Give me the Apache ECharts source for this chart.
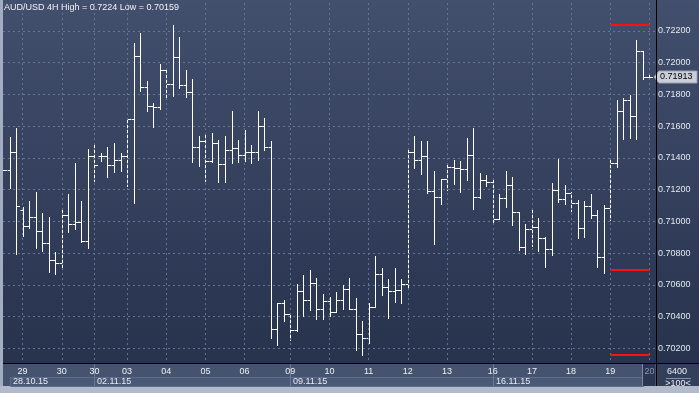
<!DOCTYPE html>
<html><head><meta charset="utf-8">
<script src="https://cdn.jsdelivr.net/npm/echarts@6/dist/echarts.min.js"></script>
<style>html,body{margin:0;padding:0;background:#2e3a55}#c{width:699px;height:393px}</style>
</head><body><div id="c"></div>
<script>
var opens = [0.71322,0.71322,0.71437,0.71070,0.70973,0.71026,0.70937,0.70862,0.70755,0.70736,
0.71038,0.70982,0.70998,0.70879,0.71410,0.71410,0.71410,0.71358,0.71385,0.71410,
0.71647,0.72042,0.71845,0.71725,0.71719,0.71952,0.71864,0.72034,0.71858,0.71813,
0.71467,0.71505,0.71381,0.71492,0.71360,0.71448,0.71461,0.71416,0.71435,0.71435,
0.71599,0.71467,0.70320,0.70484,0.70414,0.70313,0.70559,0.70503,0.70610,0.70446,
0.70496,0.70427,0.70503,0.70572,0.70446,0.70288,0.70263,0.70458,0.70666,0.70584,
0.70559,0.70566,0.70605,0.71435,0.71385,0.71410,0.71189,0.71152,0.71267,0.71341,
0.71334,0.71328,0.71416,0.71156,0.71259,0.71246,0.71013,0.71145,0.71227,0.71061,
0.70837,0.70950,0.70965,0.70895,0.70824,0.71198,0.71141,0.71177,0.71114,0.70961,
0.71095,0.71038,0.70774,0.71082,0.71370,0.71694,0.71763,0.71662,0.72072,0.71910];
var highs = [0.71322,0.71534,0.71587,0.71089,0.71129,0.71185,0.71053,0.71028,0.70805,0.71087,
0.71173,0.71368,0.71129,0.71454,0.71482,0.71431,0.71469,0.71494,0.71431,0.71650,
0.72122,0.72187,0.71885,0.71744,0.71990,0.71969,0.72240,0.72162,0.71954,0.71895,
0.71538,0.71551,0.71557,0.71513,0.71538,0.71694,0.71513,0.71574,0.71482,0.71694,
0.71650,0.71505,0.70484,0.70503,0.70414,0.70603,0.70660,0.70692,0.70641,0.70540,
0.70521,0.70553,0.70597,0.70641,0.70515,0.70370,0.70484,0.70780,0.70704,0.70635,
0.70704,0.70635,0.71448,0.71536,0.71505,0.71505,0.71316,0.71269,0.71364,0.71385,
0.71379,0.71524,0.71587,0.71303,0.71290,0.71259,0.71171,0.71318,0.71278,0.71061,
0.70984,0.71078,0.71021,0.70902,0.71240,0.71393,0.71227,0.71183,0.71133,0.71129,
0.71171,0.71070,0.71101,0.71385,0.71763,0.71776,0.71797,0.72143,0.72074,0.71933];
var lows = [0.71322,0.71213,0.70797,0.70910,0.70960,0.70834,0.70816,0.70683,0.70671,0.70708,
0.70933,0.70954,0.70872,0.70834,0.71257,0.71383,0.71280,0.71313,0.71320,0.71225,
0.71118,0.71824,0.71698,0.71597,0.71711,0.71771,0.71790,0.71843,0.71786,0.71376,
0.71351,0.71257,0.71376,0.71250,0.71250,0.71370,0.71376,0.71383,0.71370,0.71389,
0.71452,0.70267,0.70223,0.70374,0.70255,0.70311,0.70406,0.70444,0.70387,0.70387,
0.70406,0.70427,0.70446,0.70446,0.70187,0.70159,0.70236,0.70458,0.70534,0.70393,
0.70490,0.70484,0.70572,0.71339,0.71301,0.71181,0.70860,0.71112,0.71200,0.71238,
0.71187,0.71263,0.71075,0.71150,0.71225,0.70986,0.71013,0.71093,0.70979,0.70822,
0.70797,0.70847,0.70816,0.70715,0.70790,0.71124,0.71112,0.71068,0.70897,0.70904,
0.71019,0.70715,0.70677,0.71011,0.71345,0.71521,0.71524,0.71521,0.71895,0.71902];
var closes = [0.71322,0.71437,0.71095,0.70973,0.71026,0.70937,0.70862,0.70755,0.70736,0.71038,
0.70982,0.70998,0.70879,0.71410,0.71353,0.71410,0.71358,0.71385,0.71410,0.71647,
0.72042,0.71845,0.71725,0.71719,0.71952,0.71864,0.72034,0.71858,0.71813,0.71467,
0.71505,0.71381,0.71492,0.71360,0.71448,0.71461,0.71416,0.71435,0.71435,0.71599,
0.71467,0.70320,0.70484,0.70414,0.70313,0.70559,0.70503,0.70610,0.70446,0.70496,
0.70427,0.70503,0.70572,0.70446,0.70288,0.70263,0.70458,0.70666,0.70584,0.70559,
0.70566,0.70605,0.71435,0.71385,0.71410,0.71189,0.71152,0.71267,0.71341,0.71334,
0.71328,0.71416,0.71156,0.71259,0.71246,0.71013,0.71145,0.71227,0.71061,0.70837,
0.70950,0.70965,0.70895,0.70824,0.71198,0.71141,0.71177,0.71114,0.70961,0.71095,
0.71038,0.70774,0.71082,0.71370,0.71694,0.71763,0.71662,0.72072,0.71910,0.71913];

var dayLabels = ['29','30','30','03','04','05','06','09','10','11','12','13','16','17','18','19','20'];
var dayStartIdx = [3,9,14,19,25,31,37,44,50,56,62,68,75,81,87,93,99];
var weekLabels = ['28.10.15','02.11.15','09.11.15','16.11.15'];
var weekStartIdx = [1,14,44,75];
var priceTicks = {min:0.700, max:0.724, interval:0.002};
var redLevels = [0.7224, 0.70696, 0.70159];
var redFromIdx = 93, redToIdx = 99;
var titleText = 'AUD/USD 4H High = 0.7224 Low = 0.70159';
var lastPrice = 0.71913;
var volumeText = '6400';
var zoomText = '>100<';

var FAM = '"Liberation Sans", Arial, sans-serif';
var FONT = '9px ' + FAM;
var data = opens.map(function(o,i){return [i,o,highs[i],lows[i],closes[i]];});

var chart = echarts.init(document.getElementById('c'), null, {renderer:'canvas'});
var option = {
  animation:false,
  backgroundColor:{type:'linear',x:0,y:0,x2:0,y2:1,colorStops:[{offset:0,color:'#424f6d'},{offset:1,color:'#25304a'}]},
  grid:{left:3,right:43,top:-0.73,height:380.76,containLabel:false,outerBoundsMode:'none'},
  xAxis:{type:'value',min:0,max:100,show:false,splitLine:{show:false}},
  yAxis:{type:'value',position:'right',min:priceTicks.min,max:priceTicks.max,interval:priceTicks.interval,
    axisLine:{show:false},axisTick:{show:false},
    axisLabel:{show:true,margin:2,color:'#e4e8f0',fontSize:9,fontFamily:FAM,showMinLabel:false,showMaxLabel:false,
      formatter:function(v){return v.toFixed(5);}},
    splitLine:{show:true,lineStyle:{color:'#63739a',type:[2,3],width:1}}},
  series:[
    {type:'scatter',data:[],z:1,silent:true,
      markLine:{silent:true,symbol:['none','none'],label:{show:false},animation:false,
        lineStyle:{color:'#63739a',type:[2,3],width:1},
        data:dayStartIdx.map(function(i){return {xAxis:i};})}},
    {type:'custom',z:3,silent:true,data:data,clip:true,
      renderItem:function(params,api){
        var i=api.value(0);
        var o=api.coord([i,api.value(1)]),h=api.coord([i,api.value(2)]),l=api.coord([i,api.value(3)]),c=api.coord([i,api.value(4)]);
        var x=Math.round(o[0])+0.5;
        var st={stroke:'#ffffff',lineWidth:1};
        var yo=Math.round(o[1])+0.5, yc=Math.round(c[1])+0.5;
        return {type:'group',children:[
          {type:'line',shape:{x1:x,y1:Math.round(h[1]),x2:x,y2:Math.round(l[1])+1},style:st},
          {type:'line',shape:{x1:x-3,y1:yo,x2:x,y2:yo},style:st},
          {type:'line',shape:{x1:x,y1:yc,x2:x+3.5,y2:yc},style:st}
        ]};
      },
      markLine:{silent:true,symbol:['none','none'],label:{show:false},animation:false,
        lineStyle:{color:'#ff1010',type:'solid',width:2},
        data:redLevels.map(function(v){return [{coord:[redFromIdx,v]},{coord:[redToIdx,v]}];})}
    }
  ]
};
chart.setOption(option);

function px(i){return chart.convertToPixel({xAxisIndex:0},i);}
function py(v){return chart.convertToPixel({yAxisIndex:0},v);}
var g=[];
var Z=100;
g.push({type:'rect',z:Z,shape:{x:0,y:0,width:3,height:393},style:{fill:'#a3adc2'}});
g.push({type:'rect',z:Z,shape:{x:3,y:364,width:653,height:22},style:{fill:'#45536f'}});
g.push({type:'rect',z:Z,shape:{x:657,y:364,width:42,height:22},style:{fill:'#34405a'}});
g.push({type:'rect',z:Z,shape:{x:0,y:386,width:699,height:7},style:{fill:'#b3bbca'}});
for(var w=0;w<weekStartIdx.length;w++){
  var x0=Math.round(px(weekStartIdx[w]));
  var x1=w<weekStartIdx.length-1?Math.round(px(weekStartIdx[w+1])):Math.round(px(dayStartIdx[dayStartIdx.length-1]))-6;
  g.push({type:'rect',z:Z+1,shape:{x:x0+0.5,y:377.5,width:x1-x0,height:9},style:{fill:'#4a5976',stroke:'#5d6d8b',lineWidth:1}});
  g.push({type:'text',z:Z+2,x:x0+3,y:382,style:{text:weekLabels[w],fill:'#e8ebf2',font:FONT,align:'left',verticalAlign:'middle'}});
  if(w>0){g.push({type:'line',z:Z+1,shape:{x1:x0+0.5,y1:364,x2:x0+0.5,y2:386},style:{stroke:'#6a7a98',lineWidth:1}});}
}
var cx=Math.round(px(dayStartIdx[dayStartIdx.length-1]));
g.push({type:'rect',z:Z+1,shape:{x:cx-6,y:364,width:12,height:22},style:{fill:'#2b3650'}});
g.push({type:'line',z:Z+2,shape:{x1:cx-6.5,y1:364,x2:cx-6.5,y2:386},style:{stroke:'#7d8aa3',lineWidth:1}});
for(var d=0;d<dayLabels.length;d++){
  var isLast=d===dayLabels.length-1;
  g.push({type:'text',z:Z+3,x:px(dayStartIdx[d]),y:372,style:{text:dayLabels[d],fill:isLast?'#8796b0':'#eef0f5',font:FONT,align:'center',verticalAlign:'middle'}});
}
g.push({type:'line',z:Z+5,shape:{x1:656.5,y1:0,x2:656.5,y2:386},style:{stroke:'#000000',lineWidth:1}});
g.push({type:'line',z:Z+5,shape:{x1:3,y1:363.5,x2:699,y2:363.5},style:{stroke:'#000000',lineWidth:1}});
g.push({type:'text',z:Z+3,x:677,y:372,style:{text:volumeText,fill:'#e8ebf2',font:FONT,align:'center',verticalAlign:'middle'}});
g.push({type:'line',z:Z+3,shape:{x1:666,y1:378.5,x2:691,y2:378.5},style:{stroke:'#8090aa',lineWidth:1}});
g.push({type:'text',z:Z+3,x:678,y:384,style:{text:zoomText,fill:'#e8ebf2',font:FONT,align:'center',verticalAlign:'middle'}});
var ty=Math.round(py(lastPrice));
g.push({type:'polygon',z:Z+4,shape:{points:[[654,ty],[659,ty-6],[697,ty-6],[697,ty+6],[659,ty+6]]},style:{fill:'#c9ced8',stroke:'#9aa2b2',lineWidth:1}});
g.push({type:'text',z:Z+5,x:660,y:ty,style:{text:lastPrice.toFixed(5),fill:'#000000',font:FONT,align:'left',verticalAlign:'middle'}});
g.push({type:'text',z:Z+5,x:4,y:8,style:{text:titleText,fill:'#f0f2f6',font:FONT,align:'left',verticalAlign:'middle'}});
chart.setOption({graphic:{elements:g}});
</script></body></html>
